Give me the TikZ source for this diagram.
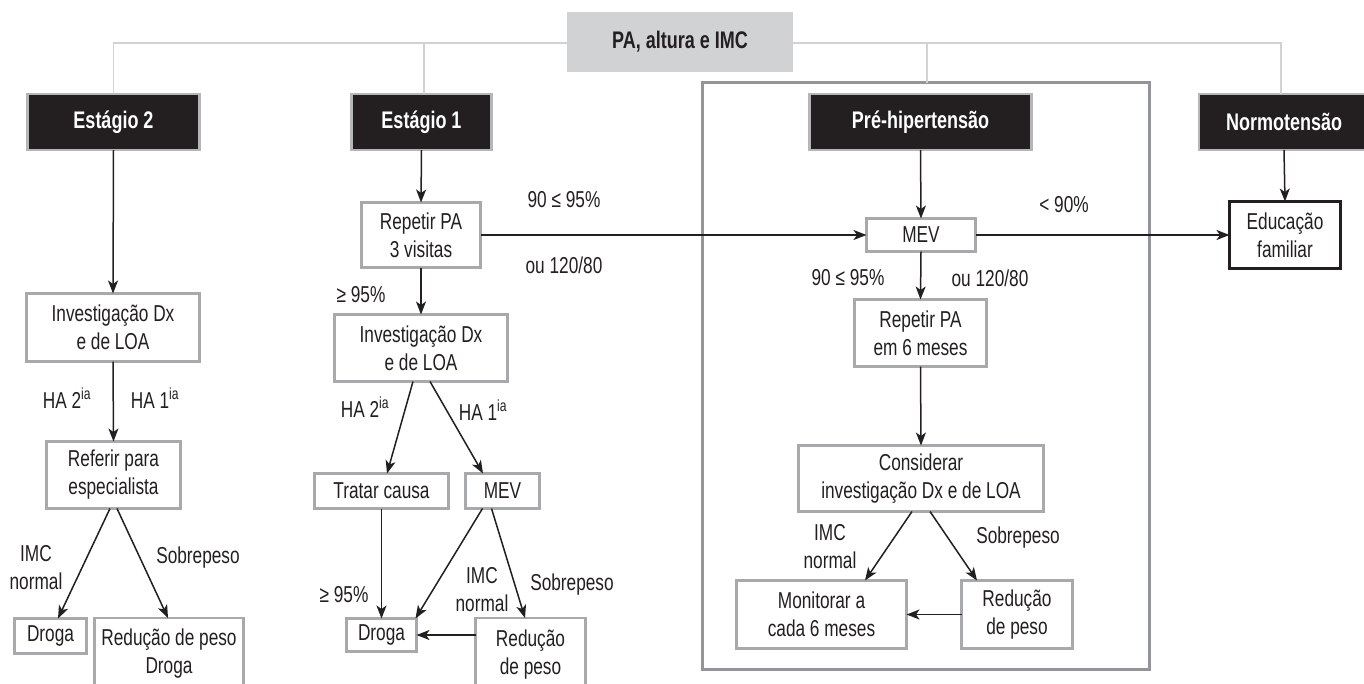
\documentclass[tikz,border=0pt]{standalone}
\usepackage{fontspec}
\setmainfont{Liberation Sans}[FakeStretch=0.75]
\usetikzlibrary{arrows.meta}
\definecolor{ink}{HTML}{231F20}
\definecolor{hdrline}{HTML}{B5B6B8}
\definecolor{boxline}{HTML}{A7A9AC}
\definecolor{outerline}{HTML}{939598}
\definecolor{treeline}{HTML}{D1D2D4}
\definecolor{topfill}{HTML}{D1D2D4}
\begin{document}
\begin{tikzpicture}[x=1pt,y=-1pt,
  every node/.style={inner sep=0pt, outer sep=0pt, align=center, text=ink, font=\fontsize{23}{28}\selectfont},
  hdr/.style={draw=hdrline, line width=2.5pt, fill=ink, text=white, font=\fontsize{24}{28}\selectfont\bfseries, minimum height=56pt},
  box/.style={draw=boxline, line width=2.5pt, fill=white},
  topbox/.style={fill=topfill, font=\fontsize{24}{28}\selectfont\bfseries},
  outerbox/.style={draw=outerline, line width=3pt},
  edubox/.style={draw=ink, line width=3pt, fill=white},
  tree/.style={draw=treeline, line width=1.5pt},
  arr/.style={draw=ink, line width=1.5pt, -{Stealth[length=13pt,width=10pt,inset=3.5pt]}},
]
\useasboundingbox (0,0) rectangle (1364,683);

% outer frame of pre-hypertension
\node[outerbox, minimum width=447, minimum height=587] (outer) at (926,376) {};

% header boxes
\node[hdr, minimum width=172] (E2) at (113.5,122) {Estágio 2};
\node[hdr, minimum width=140] (E1) at (421.5,122) {Estágio 1};
\node[hdr, minimum width=222] (PH) at (920.5,122) {Pré-hipertensão};
\node[hdr, minimum width=170] (NT) at (1284,122) {Normotensão};

% tree lines
\coordinate (hl) at (680,43);
\coordinate (e1l) at ([xshift=2.5pt]E1.north);
\coordinate (phl) at ([xshift=6.5pt]PH.north);
\coordinate (ntl) at ([xshift=-3pt]NT.north);
\draw[tree] (E2.north) -- (E2.north |- hl) -- (ntl |- hl) -- (ntl);
\draw[tree] (e1l) -- (e1l |- hl);
\draw[tree] (phl |- outer.north) -- (phl |- hl);

% top box
\node[topbox, minimum width=226, minimum height=60] (top) at (680,42) {PA, altura e IMC};

% Estagio 2 column
\node[box, minimum width=173, minimum height=68] (Inv2) at (113,327.5) {Investigação Dx\\e de LOA};
\node[box, minimum width=134, minimum height=67] (Ref) at (113.5,475) {Referir para\\especialista};
\node[box, minimum width=72, minimum height=35] (Droga2) at (50.5,636) {Droga};
\node[box, minimum width=149, minimum height=90, anchor=north] (Red2) at (169,618) {};
\node (Red2t) at (169,654) {Redução de peso\\Droga};

% Estagio 1 column
\node[box, minimum width=119, minimum height=65] (Rep) at (421,235) {Repetir PA\\3 visitas};
\node[box, minimum width=173, minimum height=67] (Inv1) at (421,348) {Investigação Dx\\e de LOA};
\node[box, minimum width=134, minimum height=35] (Tratar) at (381.5,491) {Tratar causa};
\node[box, minimum width=74, minimum height=35] (MEV1) at (502.5,491) {MEV};
\node[box, minimum width=70, minimum height=33] (Droga1) at (381.5,635) {Droga};
\node[box, minimum width=110, minimum height=90, anchor=north] (Red1) at (530.5,618) {};
\node (Red1t) at (530.5,655) {Redução\\de peso};

% Pre-hypertension column
\node[box, minimum width=109, minimum height=33] (MEV2) at (921,235) {MEV};
\node[box, minimum width=132, minimum height=67] (Rep6) at (920.5,333) {Repetir PA\\em 6 meses};
\node[box, minimum width=245, minimum height=66] (Cons) at (921,478.5) {Considerar\\investigação Dx e de LOA};
\node[box, minimum width=170, minimum height=68] (Mon) at (821.5,614.5) {Monitorar a\\cada 6 meses};
\node[box, minimum width=111, minimum height=68] (Red3) at (1017,614.5) {Redução\\de peso};

% Normotension
\node[edubox, minimum width=111, minimum height=67] (Educ) at (1285,235) {Educação\\familiar};

% arrows
\draw[arr] (E2.south) -- (Inv2.north);
\draw[arr] (Inv2.south) -- (Ref.north);
\draw[arr] ([xshift=-3.5pt]Ref.south) -- ([xshift=7.5pt]Droga2.north);
\draw[arr] ([xshift=3.5pt]Ref.south) -- ([xshift=-1pt]Red2.north);

\draw[arr] (E1.south) -- (Rep.north);
\draw[arr] (Rep.south) -- (Inv1.north);
\draw[arr] ([xshift=-8pt]Inv1.south) -- ([xshift=5.5pt]Tratar.north);
\draw[arr] ([xshift=9pt]Inv1.south) -- ([xshift=-19.5pt]MEV1.north);
\draw[arr] (Tratar.south) -- (Droga1.north);
\draw[arr] ([xshift=-20pt]MEV1.south) -- ([xshift=34pt]Droga1.north);
\draw[arr] ([xshift=-11pt]MEV1.south) -- ([xshift=-5.5pt]Red1.north);
\draw[arr] (Red1.west |- Droga1.east) -- (Droga1.east);

\draw[arr] (Rep.east) -- (MEV2.west);
\draw[arr] (PH.south) -- (MEV2.north);
\draw[arr] (MEV2.east) -- (Educ.west);
\draw[arr] (NT.south) -- (Educ.north);
\draw[arr] (MEV2.south) -- (Rep6.north);
\draw[arr] (Rep6.south) -- (Cons.north);
\draw[arr] ([xshift=-9pt]Cons.south) -- ([xshift=43.5pt]Mon.north);
\draw[arr] ([xshift=9pt]Cons.south) -- ([xshift=-40pt]Red3.north);
\draw[arr] (Red3.west) -- (Mon.east);

% labels
\node (a1) at (67,398) {HA 2\textsuperscript{ia}};
\node (a2) at (155,398) {HA 1\textsuperscript{ia}};
\node (a3) at (36,568) {IMC\\normal};
\node (a4) at (198,558) {Sobrepeso};

\node (b1) at (361,295) {≥ 95\%};
\node (b2) at (365,407) {HA 2\textsuperscript{ia}};
\node (b3) at (483,410) {HA 1\textsuperscript{ia}};
\node (b4) at (344,595) {≥ 95\%};
\node (b5) at (482,590) {IMC\\normal};
\node (b6) at (572,585) {Sobrepeso};
\node (b7) at (564,200) {90 ≤ 95\%};
\node (b8) at (564,265) {ou 120/80};

\node (c1) at (848,278) {90 ≤ 95\%};
\node (c2) at (990,278) {ou 120/80};
\node (c3) at (1064,205) {< 90\%};
\node (c4) at (830,547) {IMC\\normal};
\node (c5) at (1018,538) {Sobrepeso};
\end{tikzpicture}
\end{document}
